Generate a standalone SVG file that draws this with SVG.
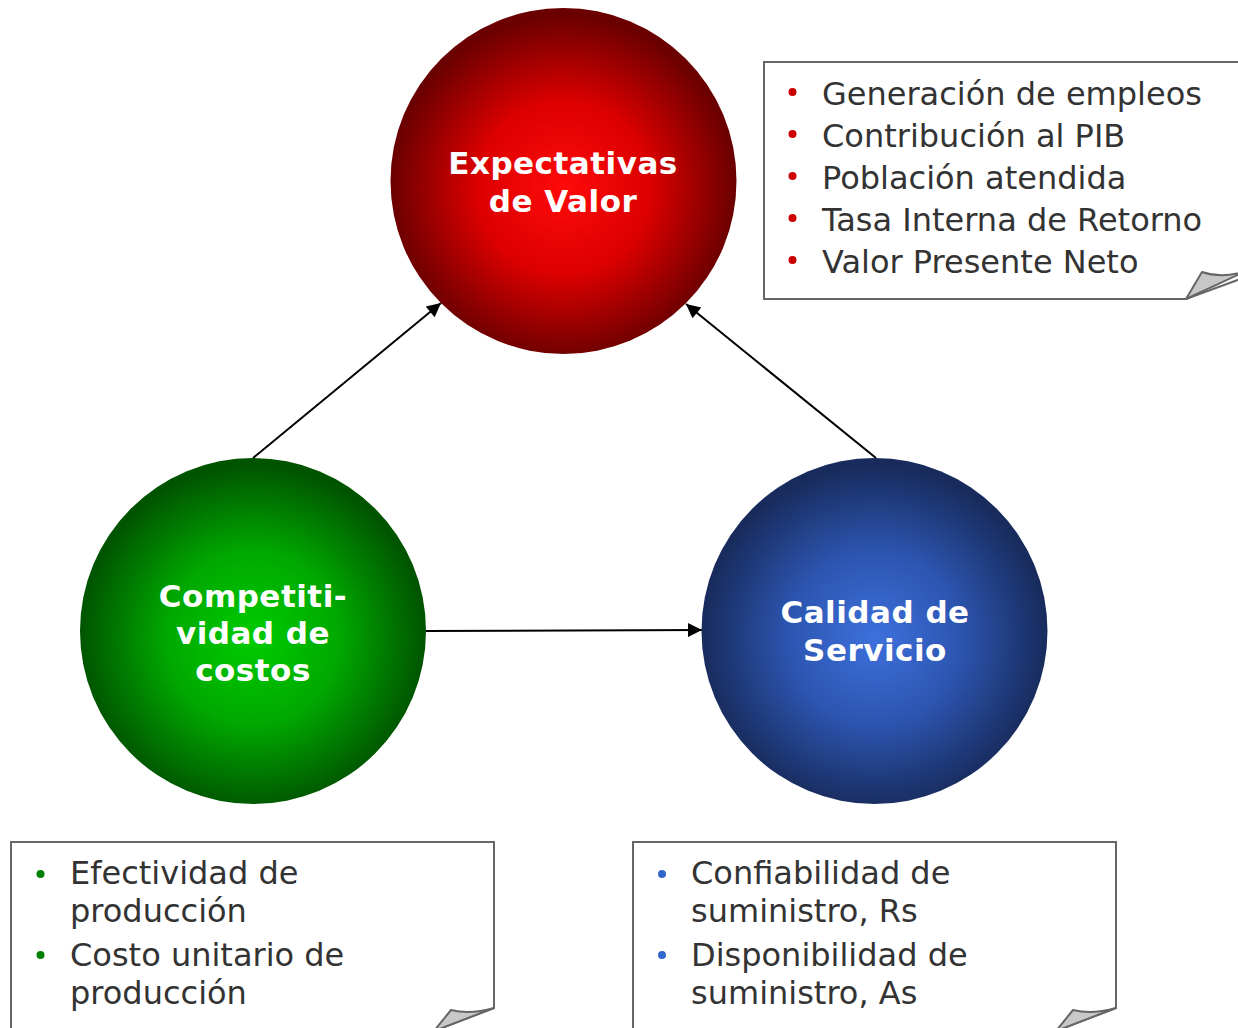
<svg xmlns="http://www.w3.org/2000/svg" width="1238" height="1028" viewBox="0 0 1238 1028">
<defs>
<radialGradient id="gRed" cx="0.5" cy="0.52" r="0.5">
<stop offset="0" stop-color="#ff0a0a"/>
<stop offset="0.5" stop-color="#dc0000"/>
<stop offset="1" stop-color="#6a0000"/>
</radialGradient>
<radialGradient id="gGreen" cx="0.5" cy="0.52" r="0.5">
<stop offset="0" stop-color="#00cc00"/>
<stop offset="0.5" stop-color="#00a800"/>
<stop offset="1" stop-color="#005400"/>
</radialGradient>
<radialGradient id="gBlue" cx="0.5" cy="0.52" r="0.5">
<stop offset="0" stop-color="#3e70dc"/>
<stop offset="0.5" stop-color="#2c55b0"/>
<stop offset="1" stop-color="#182b5c"/>
</radialGradient>
<marker id="arr" viewBox="0 0 10 10" refX="10" refY="5" markerWidth="8" markerHeight="7" markerUnits="strokeWidth" orient="auto">
<path d="M0,0 L10,5 L0,10 Z" fill="#000"/>
</marker>
<style>
.node-title{font-family:"DejaVu Sans",Verdana,sans-serif;font-weight:bold;font-size:31px;letter-spacing:0.5px;fill:#fff;text-anchor:middle}
.item{font-family:"DejaVu Sans",Verdana,sans-serif;font-size:32px;fill:#333}
.box{fill:#fff;stroke:#666;stroke-width:2}
.fold{fill:#c8c8c8;stroke:#666;stroke-width:2;stroke-linejoin:round}
.conn{stroke:#000;stroke-width:2;fill:none;marker-end:url(#arr)}
</style>
</defs>
<rect width="1238" height="1028" fill="#fff"/>

<g id="connectors">
<line class="conn" x1="253" y1="458" x2="441" y2="303"/>
<line class="conn" x1="876" y1="458" x2="686" y2="304"/>
<line class="conn" x1="426" y1="631" x2="702" y2="630"/>
</g>

<g id="node-expectativas">
<circle cx="563.5" cy="181" r="173" fill="url(#gRed)"/>
<text class="node-title" x="563" y="174">Expectativas</text>
<text class="node-title" x="563" y="212">de Valor</text>
</g>

<g id="node-competitividad">
<circle cx="253" cy="631" r="173" fill="url(#gGreen)"/>
<text class="node-title" x="253" y="607">Competiti-</text>
<text class="node-title" x="253" y="644">vidad de</text>
<text class="node-title" x="253" y="681">costos</text>
</g>

<g id="node-calidad">
<circle cx="874.5" cy="631" r="173" fill="url(#gBlue)"/>
<text class="node-title" x="875" y="623">Calidad de</text>
<text class="node-title" x="875" y="661">Servicio</text>
</g>

<g id="note-valor">
<path class="box" d="M764,62 H1246 V277 L1186,299 H764 Z"/>
<path class="fold" d="M1186,299 L1202,272 Q1222,279 1246,271 Z"/>
<g fill="#cc0000">
<circle cx="792.5" cy="92" r="4"/>
<circle cx="792.5" cy="134" r="4"/>
<circle cx="792.5" cy="176" r="4"/>
<circle cx="792.5" cy="218" r="4"/>
<circle cx="792.5" cy="260" r="4"/>
</g>
<text class="item" x="822" y="105">Generación de empleos</text>
<text class="item" x="822" y="147">Contribución al PIB</text>
<text class="item" x="822" y="189">Población atendida</text>
<text class="item" x="822" y="231">Tasa Interna de Retorno</text>
<text class="item" x="822" y="273">Valor Presente Neto</text>
</g>

<g id="note-costos">
<path class="box" d="M11,842 H494 V1008 L434,1031 H11 Z"/>
<path class="fold" d="M434,1031 L451,1010 Q470,1015 494,1008 Z"/>
<g fill="#008000">
<circle cx="40.5" cy="874" r="4"/>
<circle cx="40.5" cy="955" r="4"/>
</g>
<text class="item" x="70" y="884">Efectividad de</text>
<text class="item" x="70" y="922">producción</text>
<text class="item" x="70" y="966">Costo unitario de</text>
<text class="item" x="70" y="1004">producción</text>
</g>

<g id="note-servicio">
<path class="box" d="M633,842 H1116 V1008 L1056,1031 H633 Z"/>
<path class="fold" d="M1056,1031 L1073,1010 Q1092,1015 1116,1008 Z"/>
<g fill="#3366cc">
<circle cx="662" cy="874" r="4"/>
<circle cx="662" cy="955" r="4"/>
</g>
<text class="item" x="691" y="884">Confiabilidad de</text>
<text class="item" x="691" y="922">suministro, Rs</text>
<text class="item" x="691" y="966">Disponibilidad de</text>
<text class="item" x="691" y="1004">suministro, As</text>
</g>
</svg>
